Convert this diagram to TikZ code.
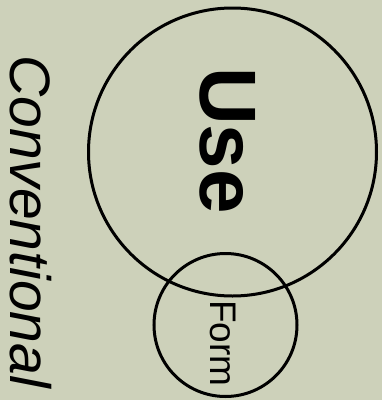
\documentclass[tikz,border=0pt]{standalone}
\usepackage{fontspec}
\setmainfont{Liberation Sans}
\definecolor{bgsage}{RGB}{205,209,186}
\begin{document}
\begin{tikzpicture}[x=1pt,y=-1pt,
  ring/.style={circle,draw=black,line width=3pt,inner sep=0pt},
  vlabel/.style={rotate=-90,anchor=base west,inner sep=0pt,text=black}]
\fill[bgsage] (0,0) rectangle (382,400);
\useasboundingbox (0,0) rectangle (382,400);
\node[ring,minimum size=288pt] (usecircle) at (232.5,152) {};
\node[ring,minimum size=143pt] (formcircle) at (225.5,325) {};
\node[vlabel,font={\bfseries\fontsize{80}{80}\selectfont}] (uselabel) at (200,67) {Use};
\node[vlabel,font={\fontsize{37}{37}\selectfont}] (formlabel) at (210,300) {Form};
\node[vlabel,font={\itshape\fontsize{57}{57}\selectfont}] (convlabel) at (11,55) {Conventional};
\end{tikzpicture}
\end{document}
